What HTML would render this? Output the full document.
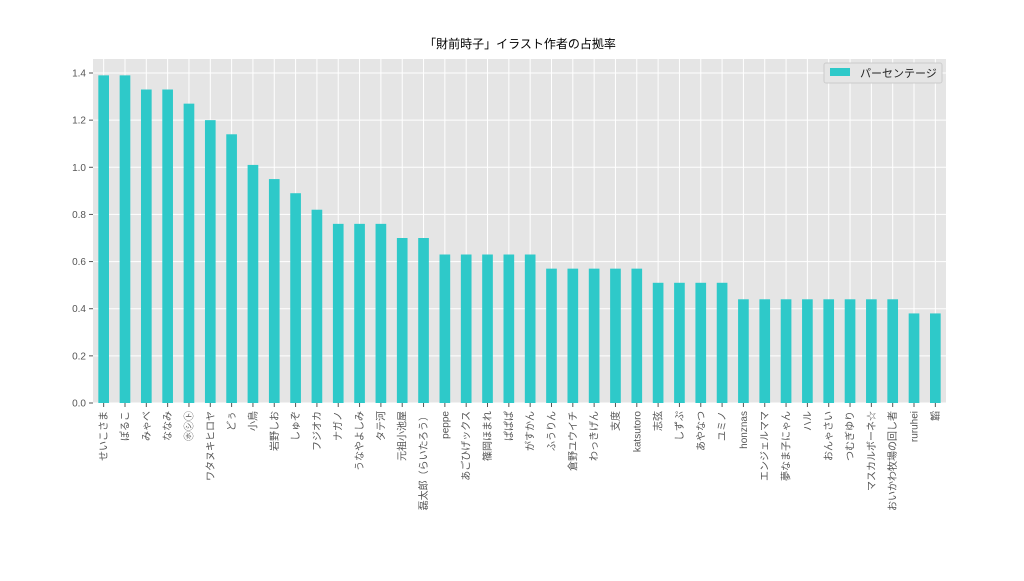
<!DOCTYPE html>
<html><head><meta charset="utf-8"><style>
body{margin:0;background:#fff;}
svg text{font-family:"Liberation Sans","Noto Sans CJK JP",sans-serif;}
</style></head><body>
<svg id="chart" width="1024" height="576" xmlns="http://www.w3.org/2000/svg">
<rect x="93" y="59" width="853" height="344" fill="#e5e5e5"/>
<g id="grid"></g><g id="bars"></g><g id="xt"></g><g id="yt"></g>
<text x="520" y="48" text-anchor="middle" font-size="12" fill="#000">「財前時子」イラスト作者の占拠率</text>
<g>
<rect x="824" y="63" width="118" height="20" fill="#e5e5e5" stroke="#ccc" stroke-width="1" rx="2"/>
<rect x="830" y="68" width="20" height="8" fill="#2ec9c9"/>
<text x="860" y="77" font-size="11" fill="#222">パーセンテージ</text>
</g>
</svg>
<script>
const categories=["せいこさま","ぽるこ","みゃべ","ななみ","㋭㋛㋣","ワタヌキヒロヤ","どぅ","小鳥","岩野しお","しゅぞ","フジオカ","ナガノ","うなやよしみ","タテ河","元祖小池屋","磊太郎（らいたろう）","peppe","あごひげックス","篠岡ほまれ","ぱぱぱ","がすかん","ふうりん","倉野ユウイチ","わっきげん","支度","katsutoro","志弦","しずぷ","あやなつ","ユミノ","honznas","エンジェルママ","夢なま子にゃん","ハル","おんゃさい","つむぎゆり","マスカルボーネ☆","おいかわ牧場の回し者","ruruhei","韜"];
const values=[1.39,1.39,1.33,1.33,1.27,1.20,1.14,1.01,0.95,0.89,0.82,0.76,0.76,0.76,0.70,0.70,0.63,0.63,0.63,0.63,0.63,0.57,0.57,0.57,0.57,0.57,0.51,0.51,0.51,0.51,0.44,0.44,0.44,0.44,0.44,0.44,0.44,0.44,0.38,0.38];
const yTicks=[0,0.2,0.4,0.6,0.8,1.0,1.2,1.4];
const yTickLabels=["0.0","0.2","0.4","0.6","0.8","1.0","1.2","1.4"];
const NS="http://www.w3.org/2000/svg";
const L=93,R=946,T=59,B=403;
const step=(R-L)/categories.length;
const x=i=>L+step*(i+0.5);
const y=v=>B-v*(B-73)/1.4;
function mk(tag,attrs,parent){const e=document.createElementNS(NS,tag);for(const k in attrs)e.setAttribute(k,attrs[k]);document.getElementById(parent).appendChild(e);return e;}
yTicks.forEach((t,i)=>{
 const g=mk('line',{x1:L,x2:R,y1:y(t),y2:y(t),stroke:'#fff','stroke-width':1},'grid');
 
 
 const tk=mk('line',{x1:L-4,x2:L,y1:y(t),y2:y(t),stroke:'#555'},'yt');
 
 
 const tx=mk('text',{x:L-7,y:y(t)+3.5,'text-anchor':'end','font-size':10,fill:'#555'},'yt');
 tx.textContent=yTickLabels[i];
 
 
});
categories.forEach((c,i)=>{
 const g=mk('line',{x1:x(i),x2:x(i),y1:T,y2:B,stroke:'#fff','stroke-width':1},'grid');
 
 
 const bw=step*0.5;
 const b=mk('rect',{x:x(i)-bw/2,y:y(values[i]),width:bw,height:B-y(values[i]),fill:'#2ec9c9'},'bars');
 
 
 const tk=mk('line',{x1:x(i),x2:x(i),y1:B,y2:B+4,stroke:'#555'},'xt');
 
 
 const tx=mk('text',{x:0,y:0,'text-anchor':'end','font-size':10,fill:'#555',transform:`translate(${x(i)+3.5},${B+8}) rotate(-90)`},'xt');
 tx.textContent=c;
 
 
});
</script>
</body></html>
